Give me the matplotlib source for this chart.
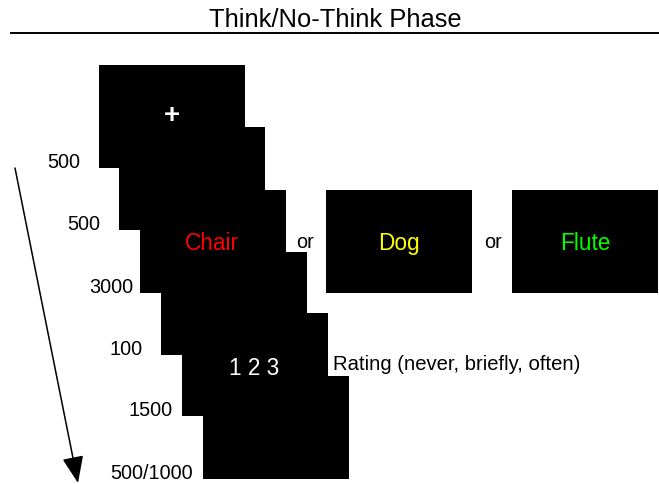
import matplotlib.pyplot as plt
from matplotlib.patches import Rectangle

plt.rcParams['font.family'] = ['Liberation Sans', 'DejaVu Sans']

# durations (ms) for each screen of a trial
durations = ["500", "500", "3000", "100", "1500", "500/1000"]
screen_text = ["+", "", "Chair", "", "1 2 3", ""]
screen_color = ["white", "white", "red", "white", "white", "white"]
alt_words = ["Dog", "Flute"]
alt_colors = ["#ffff00", "#00ff00"]
rating_label = "Rating (never, briefly, often)"
title = "Think/No-Think Phase"

fig = plt.figure(figsize=(6.59, 4.84), dpi=100)
ax = fig.add_axes([0, 0, 1, 1])
ax.set_xlim(0, 659)
ax.set_ylim(484, 0)
ax.axis('off')

# title + rule
ax.text(335.5, 27, title, ha='center', va='baseline', fontsize=18.4)
ax.plot([11, 659], [32.5, 32.5], color='black', lw=1.4)

# stacked screens
w, h = 146, 103
lefts = [99, 119, 140, 161, 182, 203]
tops = [65, 127, 190, 252, 313, 376]
label_right = [80, 100, 133, 143, 173, 193]
text_base = [None, None, 250, None, 375, None]
for i, (dur, txt, col) in enumerate(zip(durations, screen_text, screen_color)):
    x, y = lefts[i], tops[i]
    ax.add_patch(Rectangle((x, y), w, h, facecolor='black', edgecolor='none', zorder=2 + i))
    if txt == "+":
        ax.text(x + w / 2, y + 51, txt, ha='center', va='center', color=col,
                fontsize=20, fontweight='bold', zorder=10)
    elif txt:
        ax.text(x + w / 2 - 1, text_base[i], txt, ha='center', va='baseline', color=col,
                fontsize=16.3, zorder=10)
    # duration label, baseline on the screen's bottom edge
    ax.text(label_right[i], y + h, dur, ha='right', va='baseline', fontsize=14.3)

# alternative words for the cue screen
alt_x = [326, 512]
or_x = [305, 493]
cue_y = tops[2]
for ox in or_x:
    ax.text(ox, 248, "or", ha='center', va='baseline', fontsize=14.3)
for bx, word, col in zip(alt_x, alt_words, alt_colors):
    ax.add_patch(Rectangle((bx, cue_y), w, h, facecolor='black', edgecolor='none'))
    ax.text(bx + w / 2, 250, word, ha='center', va='baseline', color=col, fontsize=16.3)

# rating label
ax.text(333, 370, rating_label, ha='left', va='baseline', fontsize=14.6)

# time arrow
ax.annotate('', xy=(78, 483), xytext=(15, 168),
            arrowprops=dict(arrowstyle='-|>,head_length=0.83,head_width=0.33', color='black',
                            lw=1.1, mutation_scale=20, shrinkA=0, shrinkB=0))

fig.savefig('out.png', dpi=100)
